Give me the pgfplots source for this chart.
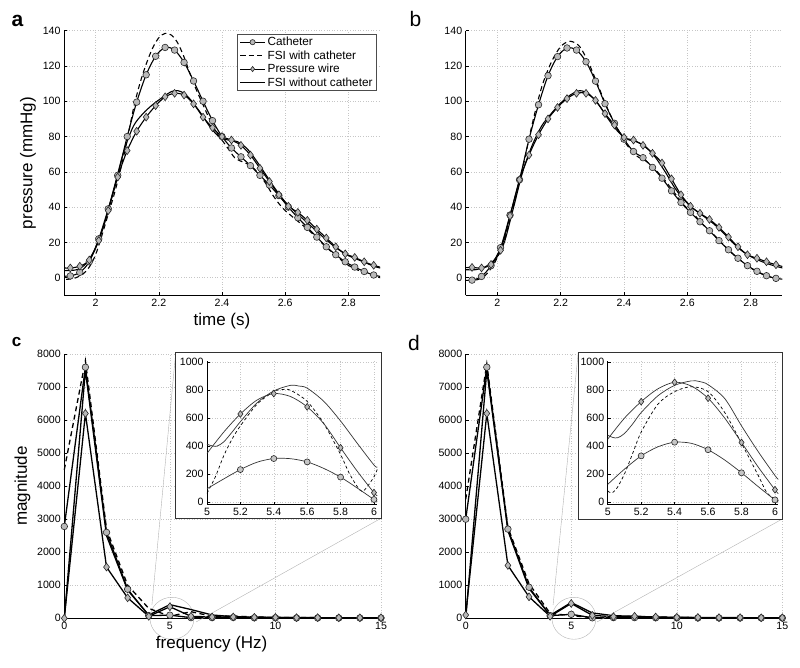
\documentclass[border=0pt]{standalone}
\usepackage{pgfplots}
\pgfplotsset{compat=1.18}
\usepackage{fontspec}
\setmainfont{Liberation Sans}

\pgfplotsset{
  mlab/.style={
    scale only axis, anchor=south west,
    axis lines*=left, axis line style={-, line width=0.8pt, black},
    tick align=inside, major tick length=3pt, tick style={black, line width=0.5pt},
    grid=major, major grid style={gray!45, line width=0.5pt, dash pattern=on 0.6pt off 2pt},
    ticklabel style={font=\fontsize{10.6}{12}\selectfont},
    /pgf/number format/assume math mode=true,
    /pgf/number format/1000 sep={},
    scaled ticks=false,
    label style={font=\fontsize{17}{20}\selectfont},
  },
  cath/.style={black, line width=1.1pt, mark=*, mark size=3.3pt,
    mark options={solid, fill=gray!55, draw=black!85, line width=0.6pt}},
  wire/.style={black, line width=1.1pt, mark=diamond*, mark size=3.9pt,
    mark options={solid, fill=gray!55, draw=black!85, line width=0.6pt}},
  fsiw/.style={black, line width=1.1pt, dashed, dash pattern=on 5pt off 3.5pt},
  fsio/.style={black, line width=1.1pt},
  inset/.style={mlab, xmin=5, xmax=6.02, ymin=-20, ymax=1010,
    xtick={5,5.2,5.4,5.6,5.8,6}, ytick={0,200,...,1000},
    width=170.3pt, height=143.9pt, clip=false,
    xticklabel style={/pgf/number format/fixed}},
  icath/.style={black!80, line width=0.7pt, mark=*, mark size=3pt,
    mark options={solid, fill=gray!45, draw=black!85, line width=0.6pt}},
  iwire/.style={black!80, line width=0.7pt, mark=diamond*, mark size=3.4pt,
    mark options={solid, fill=gray!55, draw=black!85, line width=0.6pt}},
}

\begin{document}
\begin{tikzpicture}[x=1pt,y=1pt]
\useasboundingbox (0,0) rectangle (800,668);

\node[anchor=base, font=\fontsize{21}{24}\selectfont\bfseries] at (17.5,641) {a};
\node[anchor=base, font=\fontsize{21}{24}\selectfont] at (415.5,641) {b};
\node[anchor=base, font=\fontsize{17}{20}\selectfont\bfseries] at (16.7,321.3) {c};
\node[anchor=base, font=\fontsize{21}{24}\selectfont] at (414,317) {d};

% ---------- a ----------
\begin{axis}[mlab, at={(64pt,372.7pt)}, width=316pt, height=264.6pt,
  xmin=1.9, xmax=2.9, ymin=-10, ymax=140,
  xtick={2,2.2,2.4,2.6,2.8}, ytick={0,20,...,140},
  xlabel={time (s)}, ylabel={pressure (mmHg)},
  legend style={at={(0.99,0.986)}, anchor=north east, draw=black!70, line width=0.5pt,
    font=\fontsize{11.8}{13}\selectfont, inner xsep=2pt, inner ysep=0.5pt, row sep=-0.6pt},
  legend cell align=left,
  legend image code/.code={\draw[mark repeat=2,mark phase=2,#1,mark size=2.6pt] plot coordinates {(0pt,0pt) (12.5pt,0pt) (25pt,0pt)};},
]
\addplot[cath, smooth] coordinates {
(1.88,0.8) (1.92,1) (1.95,3) (1.98,9) (2.01,22) (2.04,39) (2.07,58) (2.10,80)
(2.13,99.5) (2.16,115) (2.19,125.5) (2.22,130.5) (2.25,129) (2.28,122) (2.31,111.5)
(2.34,100) (2.37,89) (2.40,80) (2.43,73.5) (2.46,68.5) (2.49,63.5) (2.52,58)
(2.55,52.5) (2.58,46.5) (2.61,40) (2.64,34) (2.67,28.5) (2.70,23) (2.73,17.5)
(2.76,13) (2.79,9) (2.82,6) (2.85,3.5) (2.88,1.5) (2.92,0)};
\addlegendentry{Catheter}
\addplot[fsiw, smooth] coordinates {
(1.88,-1) (1.90,-1) (1.93,-0.5) (1.96,2) (1.98,6) (2.00,13) (2.02,24) (2.04,36)
(2.06,48) (2.08,62) (2.10,78) (2.12,96) (2.14,110) (2.16,121) (2.18,130) (2.20,136)
(2.22,138.5) (2.24,137.5) (2.26,133) (2.28,125) (2.30,115) (2.32,106) (2.34,98)
(2.36,90) (2.38,83) (2.40,78) (2.42,73) (2.44,68) (2.46,66) (2.48,64.5) (2.50,62)
(2.52,58) (2.54,53) (2.56,47) (2.58,42) (2.60,38) (2.64,32) (2.68,26) (2.72,19)
(2.76,12.5) (2.80,7) (2.84,3.5) (2.88,1) (2.90,0) (2.92,-0.5)};
\addlegendentry{FSI with catheter}
\addplot[wire, smooth] coordinates {
(1.88,5.5) (1.92,5.5) (1.95,6.5) (1.98,10) (2.01,21) (2.04,38) (2.07,57) (2.10,72)
(2.13,83) (2.16,91) (2.19,97.5) (2.22,102.5) (2.25,104.5) (2.28,103.5) (2.31,98.5)
(2.34,91) (2.37,85) (2.40,80) (2.43,78) (2.46,75) (2.49,69.5) (2.52,62) (2.55,54.5)
(2.58,47) (2.61,40.5) (2.64,37) (2.67,32.5) (2.70,27.5) (2.73,22.5) (2.76,17.5)
(2.79,13.5) (2.82,11.5) (2.85,9) (2.88,7) (2.92,5)};
\addlegendentry{Pressure wire}
\addplot[fsio, smooth] coordinates {
(1.88,4) (1.90,4) (1.94,4.5) (1.97,8) (2.00,17) (2.03,32) (2.06,52) (2.09,72)
(2.12,86) (2.15,93) (2.18,98) (2.21,102) (2.24,105.5) (2.26,106) (2.28,104.5)
(2.30,101) (2.33,94) (2.36,86) (2.39,80) (2.42,78) (2.45,77) (2.48,73) (2.51,66)
(2.54,58) (2.57,50) (2.60,43) (2.64,36) (2.68,29.5) (2.72,23) (2.76,17) (2.80,12.5)
(2.84,9.5) (2.88,6.5) (2.90,5.5) (2.92,5)};
\addlegendentry{FSI without catheter}
\end{axis}

% ---------- b ----------
\begin{axis}[mlab, at={(465.7pt,372.7pt)}, width=316.6pt, height=264.6pt,
  xmin=1.9, xmax=2.9, ymin=-10, ymax=140,
  xtick={2,2.2,2.4,2.6,2.8}, ytick={0,20,...,140},
]
\addplot[fsiw, smooth] coordinates {
(1.88,-1.5) (1.90,-1.5) (1.93,-1.5) (1.96,1) (1.99,8) (2.02,20) (2.05,40) (2.08,62)
(2.11,87) (2.14,108) (2.17,122) (2.20,131) (2.23,134) (2.26,131) (2.29,121) (2.32,108)
(2.35,95) (2.38,84) (2.41,75) (2.44,69) (2.47,66) (2.50,61) (2.53,55) (2.56,48)
(2.59,41) (2.62,36) (2.65,30) (2.68,25) (2.71,19.5) (2.74,14) (2.77,9.5) (2.80,5.5)
(2.83,2.5) (2.86,0.5) (2.89,-0.5) (2.92,-1)};
\addplot[cath, smooth] coordinates {
(1.88,-1.5) (1.92,-1.4) (1.95,0.7) (1.98,6.8) (2.01,17) (2.04,35.5) (2.07,55.5)
(2.10,78.5) (2.13,98) (2.16,114.5) (2.19,125.3) (2.22,130.2) (2.25,129) (2.28,122.4)
(2.31,111.4) (2.34,98.6) (2.37,87.5) (2.40,78.5) (2.43,71.5) (2.46,68) (2.49,62.5)
(2.52,56.4) (2.55,49.2) (2.58,42.6) (2.61,37) (2.64,31.7) (2.67,26.6) (2.70,21)
(2.73,15.8) (2.76,11) (2.79,6.8) (2.82,3.6) (2.85,1.1) (2.88,-0.4) (2.92,-1.2)};
\addplot[fsio, smooth] coordinates {
(1.88,4.5) (1.90,4.5) (1.93,4.5) (1.96,6) (1.99,10) (2.02,19) (2.05,39) (2.08,60)
(2.11,75) (2.14,86) (2.17,93) (2.20,99) (2.23,103.5) (2.26,106) (2.29,104) (2.32,98)
(2.35,90) (2.38,83) (2.41,78.5) (2.44,77) (2.47,74) (2.50,68) (2.53,60) (2.56,51)
(2.59,44) (2.62,39) (2.65,35) (2.68,31) (2.71,26) (2.74,20.5) (2.77,15.5) (2.80,12)
(2.83,9.5) (2.86,7.5) (2.90,5.5) (2.92,5)};
\addplot[wire, smooth] coordinates {
(1.88,5.5) (1.92,5.8) (1.95,5.5) (1.98,7.5) (2.01,15.5) (2.04,35) (2.07,55.5)
(2.10,69.5) (2.13,81) (2.16,90) (2.19,96.5) (2.22,101.5) (2.25,104.5) (2.28,104.5)
(2.31,100.5) (2.34,93) (2.37,86.5) (2.40,79.5) (2.43,78) (2.46,75) (2.49,70.5)
(2.52,65) (2.55,56) (2.58,47) (2.61,40.5) (2.64,36.5) (2.67,33) (2.70,28.5)
(2.73,23) (2.76,17.5) (2.79,13) (2.82,11) (2.85,9) (2.88,7.3) (2.92,5.5)};
\end{axis}

% ---------- c ----------
\begin{axis}[mlab, at={(64.3pt,49.7pt)}, width=316.7pt, height=264.3pt,
  xmin=0, xmax=15, ymin=0, ymax=8000,
  xtick={0,5,10,15}, ytick={0,1000,...,8000}, clip=false,
  xlabel={frequency (Hz)}, ylabel={magnitude},
  xlabel style={xshift=-11pt},
]
\draw[gray!60, line width=0.4pt] (axis cs:5.1,0) ellipse [x radius=22pt, y radius=21pt];
\addplot[fsiw, line width=1.3pt] coordinates {
(0,4500) (1,7800) (2,2700) (3,1000) (4,300) (5,62) (6,200) (7,60) (8,70) (9,40)
(10,30) (11,20) (12,20) (13,15) (14,15) (15,10)};
\addplot[fsio, line width=1.3pt] coordinates {
(0,0) (1,7500) (2,2500) (3,850) (4,100) (5,414) (6,265) (7,100) (8,50) (9,30)
(10,25) (11,20) (12,15) (13,15) (14,10) (15,10)};
\addplot[cath, line width=1.3pt] coordinates {
(0,2780) (1,7600) (2,2600) (3,880) (4,80) (5,95) (6,20) (7,20) (8,25) (9,15)
(10,15) (11,10) (12,10) (13,10) (14,10) (15,10)};
\addplot[wire, line width=1.3pt] coordinates {
(0,0) (1,6200) (2,1550) (3,620) (4,60) (5,350) (6,60) (7,40) (8,40) (9,30)
(10,25) (11,20) (12,20) (13,15) (14,15) (15,15)};
\draw[gray!60, line width=0.4pt] (axis cs:4.15,403) -- (axis cs:5.277,8040);
\draw[gray!60, line width=0.4pt] (axis cs:6.24,-112) -- (axis cs:15,3027);
\draw[black!80, line width=0.9pt, fill=white] (axis cs:5.277,8040) rectangle (axis cs:15,3027);
\end{axis}

\begin{axis}[inset, at={(207pt,163.2pt)}]
\addplot[fsiw, line width=0.7pt, dash pattern=on 3pt off 2.5pt, smooth] coordinates {
(5.0,62) (5.05,180) (5.1,330) (5.15,450) (5.2,545) (5.3,700) (5.4,790) (5.45,805)
(5.5,800) (5.6,720) (5.7,560) (5.8,340) (5.85,210) (5.9,110) (5.93,75) (5.96,110)
(6.0,180) (6.02,235)};
\addplot[black!80, line width=0.7pt, smooth] coordinates {
(5.0,414) (5.03,402) (5.06,400) (5.1,430) (5.15,500) (5.2,575) (5.3,710) (5.4,795)
(5.5,835) (5.55,830) (5.6,815) (5.7,720) (5.8,580) (5.9,420) (6.0,265) (6.02,250)};
\addplot[black!80, line width=0.7pt, smooth] coordinates {
(5.0,95) (5.1,165) (5.2,232) (5.3,285) (5.4,311) (5.5,310) (5.6,287) (5.7,240)
(5.8,178) (5.9,100) (6.0,18) (6.02,5)};
\addplot[black!80, line width=0.7pt, smooth] coordinates {
(5.0,348) (5.1,500) (5.2,630) (5.3,730) (5.4,776) (5.5,755) (5.6,681) (5.7,560)
(5.8,388) (5.9,220) (6.0,67) (6.02,45)};
\addplot[icath, only marks] coordinates {(5.2,232) (5.4,311) (5.6,287) (5.8,178) (6.0,18)};
\addplot[iwire, only marks] coordinates {(5.2,630) (5.4,776) (5.6,681) (5.8,388) (6.0,67)};
\end{axis}

% ---------- d ----------
\begin{axis}[mlab, at={(465.7pt,49.7pt)}, width=316.6pt, height=264.3pt,
  xmin=0, xmax=15, ymin=0, ymax=8000,
  xtick={0,5,10,15}, ytick={0,1000,...,8000}, clip=false,
]
\draw[gray!60, line width=0.4pt] (axis cs:5.13,0) ellipse [x radius=22pt, y radius=21pt];
\addplot[fsiw, line width=1.3pt] coordinates {
(0,3600) (1,7700) (2,2750) (3,1050) (4,150) (5,80) (6,20) (7,40) (8,60) (9,30)
(10,25) (11,20) (12,15) (13,15) (14,10) (15,10)};
\addplot[fsio, line width=1.3pt] coordinates {
(0,0) (1,7500) (2,2650) (3,900) (4,90) (5,478) (6,162) (7,80) (8,60) (9,30)
(10,25) (11,20) (12,15) (13,15) (14,10) (15,10)};
\addplot[cath, line width=1.3pt] coordinates {
(0,3000) (1,7600) (2,2700) (3,940) (4,80) (5,120) (6,15) (7,20) (8,20) (9,15)
(10,15) (11,10) (12,10) (13,10) (14,10) (15,10)};
\addplot[wire, line width=1.3pt] coordinates {
(0,100) (1,6200) (2,1600) (3,650) (4,60) (5,450) (6,88) (7,50) (8,60) (9,40)
(10,30) (11,25) (12,20) (13,20) (14,15) (15,15)};
\draw[gray!60, line width=0.4pt] (axis cs:4.14,403) -- (axis cs:5.33,8040);
\draw[gray!60, line width=0.4pt] (axis cs:6.22,-112) -- (axis cs:15,3006);
\draw[black!80, line width=0.9pt, fill=white] (axis cs:5.33,8040) rectangle (axis cs:15,3006);
\end{axis}

\begin{axis}[inset, at={(607.7pt,163.2pt)}, width=170.6pt]
\addplot[fsiw, line width=0.7pt, dash pattern=on 3pt off 2.5pt, smooth] coordinates {
(5.0,80) (5.02,65) (5.05,90) (5.1,200) (5.15,350) (5.2,500) (5.3,700) (5.4,790)
(5.5,825) (5.6,790) (5.7,640) (5.8,420) (5.9,190) (5.95,70) (6.0,20) (6.02,10)};
\addplot[black!80, line width=0.7pt, smooth] coordinates {
(5.0,478) (5.03,462) (5.06,460) (5.1,490) (5.15,560) (5.2,640) (5.3,760) (5.4,835)
(5.5,867) (5.55,862) (5.6,840) (5.7,740) (5.8,545) (5.9,360) (6.0,190) (6.02,162)};
\addplot[black!80, line width=0.7pt, smooth] coordinates {
(5.0,126) (5.1,235) (5.2,330) (5.3,395) (5.4,428) (5.5,420) (5.6,374) (5.7,300)
(5.8,209) (5.9,110) (6.0,15) (6.02,0)};
\addplot[black!80, line width=0.7pt, smooth] coordinates {
(5.0,450) (5.1,600) (5.2,718) (5.3,810) (5.4,857) (5.5,830) (5.6,743) (5.7,600)
(5.8,426) (5.9,250) (6.0,88) (6.02,60)};
\addplot[icath, only marks] coordinates {(5.2,330) (5.4,428) (5.6,374) (5.8,209) (6.0,15)};
\addplot[iwire, only marks] coordinates {(5.2,718) (5.4,857) (5.6,743) (5.8,426) (6.0,88)};
\end{axis}
\end{tikzpicture}
\end{document}
